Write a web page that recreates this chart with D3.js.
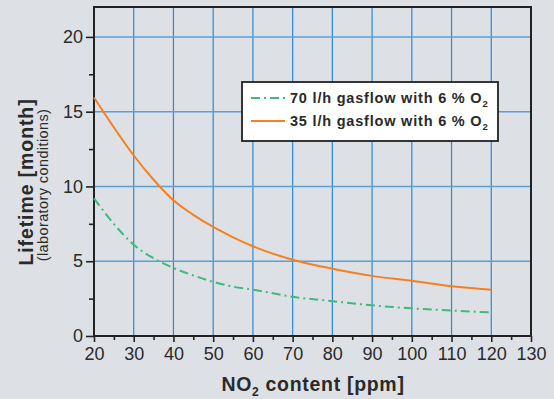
<!DOCTYPE html>
<html>
<head>
<meta charset="utf-8">
<script src="https://cdn.jsdelivr.net/npm/d3@7"></script>
<style>
  body { margin: 0; background: #dde1e5; }
  svg { display: block; font-family: "Liberation Sans", Arial, sans-serif; }
</style>
</head>
<body>
<div id="chart"></div>
<script>
// NO2 content (ppm)
var no2 = [20, 25, 30, 35, 40, 45, 50, 55, 60, 70, 80, 90, 100, 110, 120];
// lifetime in months, 35 l/h
var life35 = [15.95, 13.95, 12.07, 10.45, 9.07, 8.1, 7.29, 6.6, 6.0, 5.1, 4.5, 4.02, 3.69, 3.33, 3.1];
// lifetime in months, 70 l/h
var life70 = [9.2, 7.5, 6.1, 5.2, 4.55, 4.05, 3.62, 3.3, 3.1, 2.62, 2.33, 2.05, 1.85, 1.7, 1.58];
var xTicks = [20, 30, 40, 50, 60, 70, 80, 90, 100, 110, 120, 130];
var yTicks = [0, 5, 10, 15, 20];
var legendLabels = ["70 l/h gasflow with 6 % O", "35 l/h gasflow with 6 % O"];

var width = 554, height = 399;
var margin = {top: 7, right: 23, bottom: 63, left: 94};
var w = width - margin.left - margin.right,
    h = height - margin.top - margin.bottom;

var svg = d3.select("#chart").append("svg")
  .attr("width", width)
  .attr("height", height);

var g = svg.append("g")
  .attr("transform", "translate(" + margin.left + "," + margin.top + ")");

var x = d3.scaleLinear().domain([20, 130]).range([0, w]);
var y = d3.scaleLinear().domain([0, 22]).range([h, 0]);

// grid
g.selectAll(".vgrid")
  .data(xTicks.slice(1, -1))
  .enter().append("line")
  .attr("x1", function(d) { return x(d); })
  .attr("x2", function(d) { return x(d); })
  .attr("y1", 0).attr("y2", h)
  .attr("stroke", "#2f88d0").attr("stroke-width", 1.2);

g.selectAll(".hgrid")
  .data(yTicks.slice(1))
  .enter().append("line")
  .attr("x1", 0).attr("x2", w)
  .attr("y1", function(d) { return y(d); })
  .attr("y2", function(d) { return y(d); })
  .attr("stroke", "#5aa0d8").attr("stroke-width", 1.5);

// axes
var xAxis = g.append("g")
  .attr("transform", "translate(0," + h + ")")
  .call(d3.axisBottom(x).tickValues(xTicks).tickSize(6).tickPadding(5));

var xMinor = g.append("g")
  .attr("transform", "translate(0," + h + ")")
  .call(d3.axisBottom(x).tickValues(d3.range(25, 130, 10)).tickSize(4).tickFormat(""));

var yAxis = g.append("g")
  .call(d3.axisLeft(y).tickValues(yTicks).tickSize(8).tickPadding(3));

var yMinor = g.append("g")
  .call(d3.axisLeft(y).tickValues(d3.range(2.5, 22, 5)).tickSize(5).tickFormat(""));

[xAxis, xMinor, yAxis, yMinor].forEach(function(a) {
  a.select(".domain").remove();
  a.selectAll("line").attr("stroke", "#222").attr("stroke-width", 1.6);
  a.selectAll("text").attr("fill", "#2a2a2a").style("font-size", "18px");
});

// frame
g.append("rect")
  .attr("x", 0).attr("y", 0)
  .attr("width", w).attr("height", h)
  .attr("fill", "none")
  .attr("stroke", "#222").attr("stroke-width", 2);

// curves
var line = d3.line()
  .x(function(d, i) { return x(no2[i]); })
  .y(function(d) { return y(d); })
  .curve(d3.curveMonotoneX);

g.append("path")
  .datum(life70)
  .attr("d", line)
  .attr("fill", "none")
  .attr("stroke", "#3fba7a")
  .attr("stroke-width", 2)
  .attr("stroke-dasharray", "9,4,2,4");

g.append("path")
  .datum(life35)
  .attr("d", line)
  .attr("fill", "none")
  .attr("stroke", "#f5801f")
  .attr("stroke-width", 2);

// legend
var lg = svg.append("g").attr("transform", "translate(242,82)");
lg.append("rect")
  .attr("width", 256).attr("height", 59)
  .attr("fill", "#fff")
  .attr("stroke", "#222").attr("stroke-width", 1.8);

var styles = [
  {color: "#3fba7a", dash: "9,4,2,4"},
  {color: "#f5801f", dash: null}
];

legendLabels.forEach(function(t, i) {
  var yy = 16 + i * 23;
  lg.append("line")
    .attr("x1", 9).attr("x2", 43)
    .attr("y1", yy).attr("y2", yy)
    .attr("stroke", styles[i].color)
    .attr("stroke-width", 2)
    .attr("stroke-dasharray", styles[i].dash);
  var txt = lg.append("text")
    .attr("x", 48).attr("y", yy + 5)
    .attr("fill", "#2a2a2a")
    .style("font-size", "14.5px")
    .style("font-weight", "bold")
    .style("letter-spacing", "0.8px")
    .text(t);
  txt.append("tspan")
    .attr("dy", 4)
    .style("font-size", "9.5px")
    .text("2");
});

// axis titles
var xt = svg.append("text")
  .attr("x", 313)
  .attr("y", 391)
  .attr("text-anchor", "middle")
  .attr("fill", "#2a2a2a")
  .style("font-size", "19.5px")
  .style("font-weight", "bold")
  .style("letter-spacing", "0.7px")
  .text("NO");
xt.append("tspan").attr("dy", 5).style("font-size", "12px").text("2");
xt.append("tspan").attr("dy", -5).text(" content [ppm]");

svg.append("text")
  .attr("transform", "translate(33,182) rotate(-90)")
  .attr("text-anchor", "middle")
  .attr("fill", "#2a2a2a")
  .style("font-size", "19.5px")
  .style("font-weight", "bold")
  .style("letter-spacing", "0.9px")
  .text("Lifetime [month]");

svg.append("text")
  .attr("transform", "translate(48,185) rotate(-90)")
  .attr("text-anchor", "middle")
  .attr("fill", "#2a2a2a")
  .style("font-size", "14.5px")
  .style("letter-spacing", "0.4px")
  .text("(laboratory conditions)");
</script>
</body>
</html>
